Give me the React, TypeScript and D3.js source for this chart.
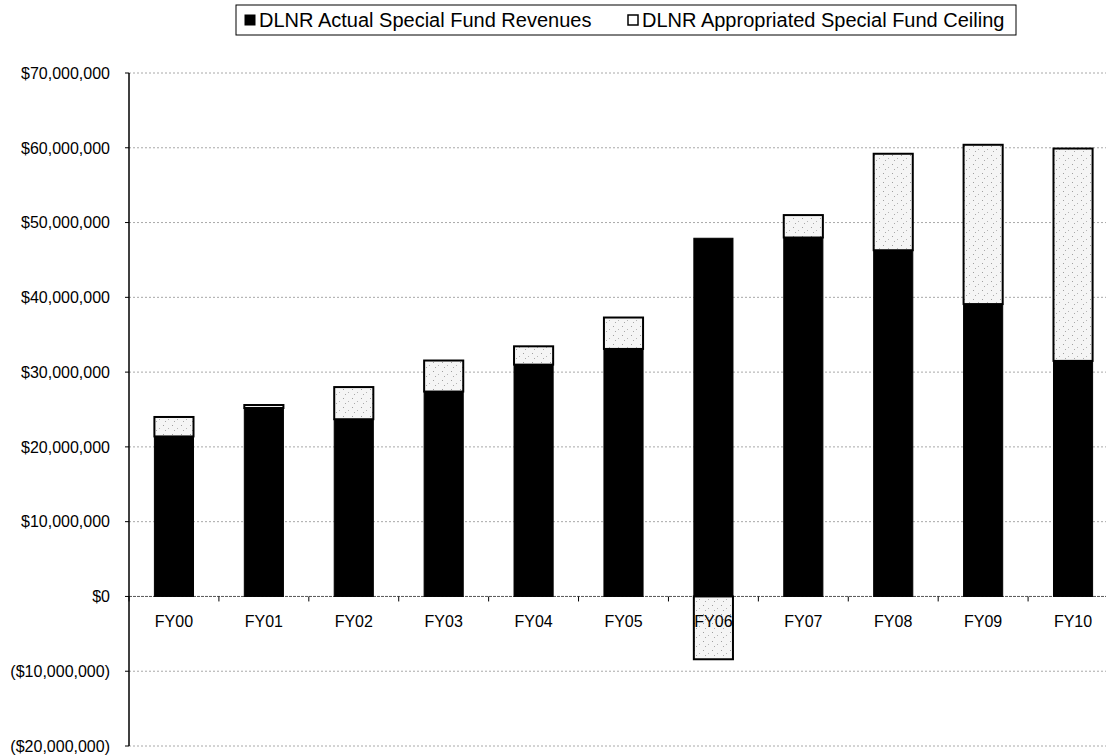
import React from "react";
import * as d3 from "d3";

const categories = ["FY00", "FY01", "FY02", "FY03", "FY04", "FY05", "FY06", "FY07", "FY08", "FY09", "FY10"];
// DLNR Actual Special Fund Revenues (millions $)
const actualRevenues = [21.4, 25.2, 23.7, 27.4, 31.0, 33.1, 47.9, 48.0, 46.3, 39.1, 31.5];
// Appropriated ceiling segment, stacked on top of revenues (ceiling minus actual, millions $)
const ceilingSegment = [2.6, 0.4, 4.3, 4.15, 2.45, 4.2, -8.4, 3.0, 12.9, 21.3, 28.4];
const yTicks = [-20, -10, 0, 10, 20, 30, 40, 50, 60, 70];
const seriesNames = ["DLNR Actual Special Fund Revenues", "DLNR Appropriated Special Fund Ceiling"];

const W = 1106;
const H = 756;
const FONT = "'Liberation Sans', Arial, Helvetica, sans-serif";

function fmtMoney(v: number) {
  const s = "$" + d3.format(",")(Math.abs(v) * 1000000);
  return v < 0 ? "(" + s + ")" : s;
}

export default function App() {
  const left = 129;
  const right = 1118;
  const top = 73;
  const bottom = 746;

  const x = d3.scaleBand<string>().domain(categories).range([left, right]).paddingInner(0.565).paddingOuter(0.2825);
  const y = d3.scaleLinear().domain([-20, 70]).range([bottom, top]);

  const rows = categories.map((c, i) => ({ cat: c, actual: actualRevenues[i], ceiling: ceilingSegment[i] }));
  const stack = d3.stack<any>().keys(["actual", "ceiling"]).offset(d3.stackOffsetDiverging);
  const layers = stack(rows);
  const fills = ["#000000", "url(#speckle)"];

  const step = x.step();
  const boundaries = categories.map((_, i) => left + step * i).concat([left + step * categories.length]);

  return (
    <svg width={W} height={H} style={{ position: "absolute", left: 0, top: 0, background: "#fff" }} xmlns="http://www.w3.org/2000/svg">
      <defs>
        <pattern id="speckle" width="9" height="9" patternUnits="userSpaceOnUse">
          <rect width="9" height="9" fill="#f5f5f5" />
          <rect x="1" y="2" width="1" height="1" fill="#a0a0a0" />
          <rect x="6" y="5" width="1" height="1" fill="#b5b5b5" />
          <rect x="3" y="7" width="1" height="1" fill="#aaaaaa" />
        </pattern>
      </defs>
      <rect x={0} y={0} width={W} height={H} fill="#fff" />

      {/* gridlines */}
      {yTicks.map((t) => (
        <line key={"g" + t} x1={left} x2={W} y1={y(t)} y2={y(t)} stroke={t === 0 ? "#555" : "#a8a8a8"} strokeWidth={1} strokeDasharray={t === 0 ? "3,1" : "2,2"} />
      ))}

      {/* bars */}
      {layers.map((layer, li) =>
        layer.map((d, i) => {
          const y0 = Math.min(y(d[0]), y(d[1]));
          const h = Math.abs(y(d[0]) - y(d[1]));
          return (
            <rect key={li + "-" + i} x={x(categories[i])} y={y0} width={x.bandwidth()} height={h} fill={fills[li]} stroke="#000" strokeWidth={li === 1 ? 2 : 1} />
          );
        })
      )}

      {/* y axis */}
      <line x1={left} x2={left} y1={top} y2={bottom} stroke="#000" strokeWidth={1.5} />
      {yTicks.map((t) => (
        <g key={"t" + t}>
          <line x1={left - 4} x2={left} y1={y(t)} y2={y(t)} stroke="#000" />
          <text x={110} y={y(t)} dy="0.36em" textAnchor="end" fontFamily={FONT} fontSize={16} fill="#000">
            {fmtMoney(t)}
          </text>
        </g>
      ))}

      {/* x axis ticks and labels */}
      {boundaries.map((b, i) => (
        <line key={"xb" + i} x1={b} x2={b} y1={y(0)} y2={y(0) + 5} stroke="#000" />
      ))}
      {categories.map((c) => (
        <text key={"xl" + c} x={(x(c) as number) + x.bandwidth() / 2} y={y(0) + 31} textAnchor="middle" fontFamily={FONT} fontSize={16} fill="#000">
          {c}
        </text>
      ))}

      {/* legend */}
      <rect x={236} y={5} width={780} height={30} fill="#fff" stroke="#000" strokeWidth={1} />
      <rect x={245} y={15} width={10} height={10} fill="#000" stroke="#000" />
      <text x={259} y={20} dy="0.36em" fontFamily={FONT} fontSize={20} fill="#000">
        {seriesNames[0]}
      </text>
      <rect x={628} y={15} width={10} height={10} fill="#fff" stroke="#000" strokeWidth={1.5} />
      <text x={642} y={20} dy="0.36em" fontFamily={FONT} fontSize={20} fill="#000">
        {seriesNames[1]}
      </text>
    </svg>
  );
}
